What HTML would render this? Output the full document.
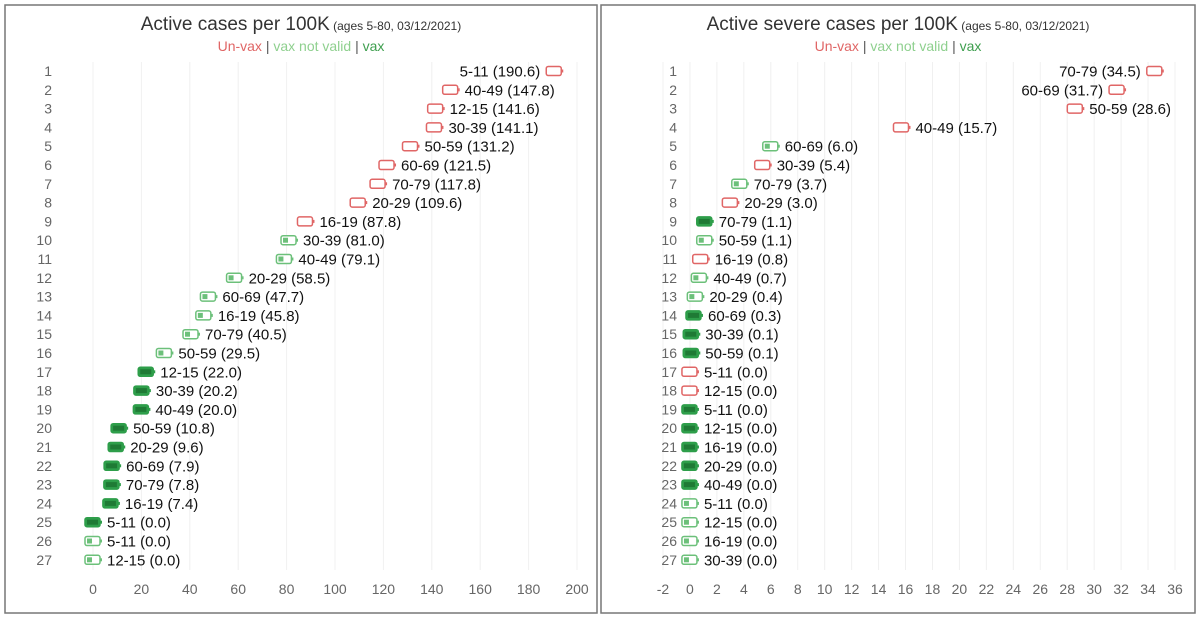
<!DOCTYPE html>
<html><head><meta charset="utf-8"><style>
body{margin:0;background:#fff;width:1200px;height:619px;overflow:hidden;font-family:"Liberation Sans",sans-serif}
</style></head><body>
<svg id="svg" width="1200" height="619" xmlns="http://www.w3.org/2000/svg"></svg>
<script>
// Left chart data
const leftAges=["5-11","40-49","12-15","30-39","50-59","60-69","70-79","20-29","16-19","30-39","40-49","20-29","60-69","16-19","70-79","50-59","12-15","30-39","40-49","50-59","20-29","60-69","70-79","16-19","5-11","5-11","12-15"];
const leftValues=[190.6,147.8,141.6,141.1,131.2,121.5,117.8,109.6,87.8,81.0,79.1,58.5,47.7,45.8,40.5,29.5,22.0,20.2,20.0,10.8,9.6,7.9,7.8,7.4,0.0,0.0,0.0];
const leftStatus=["u","u","u","u","u","u","u","u","u","n","n","n","n","n","n","n","v","v","v","v","v","v","v","v","v","n","n"];
const leftTicks=[0,20,40,60,80,100,120,140,160,180,200];
// Right chart data
const rightAges=["70-79","60-69","50-59","40-49","60-69","30-39","70-79","20-29","70-79","50-59","16-19","40-49","20-29","60-69","30-39","50-59","5-11","12-15","5-11","12-15","16-19","20-29","40-49","5-11","12-15","16-19","30-39"];
const rightValues=[34.5,31.7,28.6,15.7,6.0,5.4,3.7,3.0,1.1,1.1,0.8,0.7,0.4,0.3,0.1,0.1,0.0,0.0,0.0,0.0,0.0,0.0,0.0,0.0,0.0,0.0,0.0];
const rightStatus=["u","u","u","u","n","u","n","u","v","n","u","n","n","v","v","v","u","u","v","v","v","v","v","n","n","n","n"];
const rightTicks=[-2,0,2,4,6,8,10,12,14,16,18,20,22,24,26,28,30,32,34,36];

const NS="http://www.w3.org/2000/svg";
const svg=document.getElementById('svg');
function mk(tag,attrs,parent){const e=document.createElementNS(NS,tag);for(const k in attrs)e.setAttribute(k,attrs[k]);(parent||svg).appendChild(e);return e;}

function panel(cfg){
  const g=mk('g',{});
  
  
  const border=mk('rect',{x:cfg.px,y:5,width:cfg.pw,height:608,fill:'none',stroke:'#777','stroke-width':1.5},g);
  
  
  const xs=v=>cfg.x0+(v-cfg.d0)/(cfg.d1-cfg.d0)*(cfg.x1-cfg.x0);
  const ys=i=>71+i*18.8;
  // gridlines
  cfg.ticks.forEach(t=>{
    const l=mk('line',{x1:xs(t),x2:xs(t),y1:62,y2:570,stroke:'#f0f0f0','stroke-width':1},g);
    
    
    const tx=mk('text',{x:xs(t),y:594,'text-anchor':'middle','font-size':14,fill:'#666'},g);
    tx.textContent=t;
    
    
  });
  // title
  const cx=cfg.px+cfg.pw/2;
  const title=mk('text',{x:cx,y:30,'text-anchor':'middle','font-size':19,fill:'#333'},g);
  title.innerHTML=cfg.title+'<tspan font-size="12"> (ages 5-80, 03/12/2021)</tspan>';
  
  
  const leg=mk('text',{x:cx,y:51,'text-anchor':'middle','font-size':14},g);
  leg.innerHTML='<tspan fill="#e06666">Un-vax</tspan><tspan fill="#555"> | </tspan><tspan fill="#8fd08f">vax not valid</tspan><tspan fill="#555"> |  </tspan><tspan fill="#3f9f4f">vax</tspan>';
  
  
  cfg.values.forEach((v,i)=>{
    const y=ys(i);
    const rn=mk('text',{x:cfg.rowX,y:y+5,'text-anchor':'end','font-size':14,fill:'#666'},g);
    rn.textContent=i+1;
    
    
    const x=xs(v);const s=cfg.status[i];
    const bg=mk('g',{},g);
    
    
    const col=s==='u'?'#e06666':(s==='n'?'#6cc07a':'#2e9e4a');
    mk('rect',{x:x-8,y:y-4.5,width:15,height:9,rx:2,fill:s==='v'?'#2e9e4a':'#fff',stroke:col,'stroke-width':1.5},bg);
    mk('rect',{x:x+7.5,y:y-1.5,width:1.5,height:3,fill:col},bg);
    if(s==='n')mk('rect',{x:x-6,y:y-2.5,width:5,height:5,fill:col},bg);
    if(s==='v')mk('rect',{x:x-6,y:y-2.5,width:11,height:5,fill:'#1f7a35'},bg);
    const label=cfg.ages[i]+' ('+v.toFixed(1)+')';
    const w=label.length*7.6;
    const left=x+14+w>cfg.x1+8;
    const t=mk('text',{x:left?x-14:x+14,y:y+5.5,'text-anchor':left?'end':'start','font-size':15,fill:'#111'},g);
    t.textContent=label;
    
    
  });
}
panel({name:'active-cases-chart',px:5,pw:592,x0:93,x1:577,d0:0,d1:200,ticks:leftTicks,values:leftValues,ages:leftAges,status:leftStatus,title:'Active cases per 100K',rowX:52});
panel({name:'active-severe-cases-chart',px:601,pw:594,x0:663,x1:1175,d0:-2,d1:36,ticks:rightTicks,values:rightValues,ages:rightAges,status:rightStatus,title:'Active severe cases per 100K',rowX:677});
</script>
</body></html>
